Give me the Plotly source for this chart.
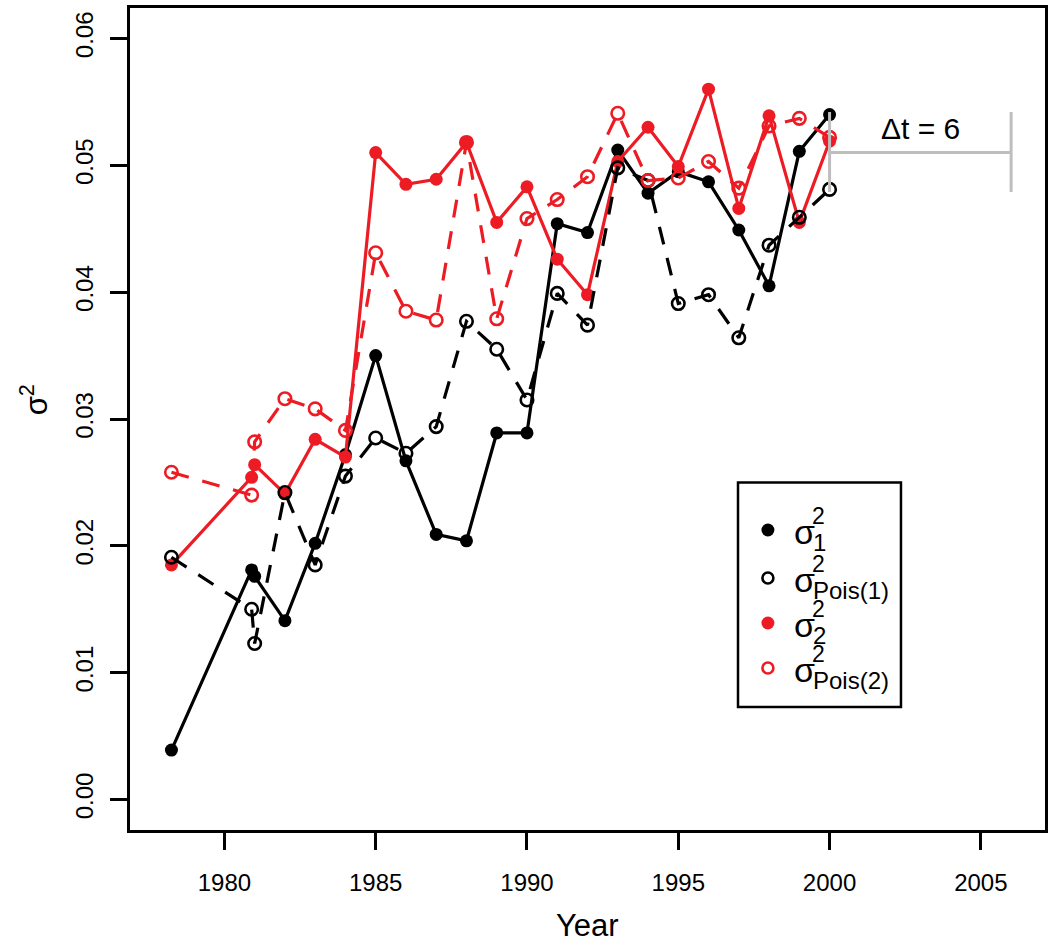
import plotly.graph_objects as go

# ---------------- data ----------------
years = [1978.25, 1980.9, 1981, 1982, 1983, 1984, 1985, 1986, 1987, 1988, 1989,
         1990, 1991, 1992, 1993, 1994, 1995, 1996, 1997, 1998, 1999, 2000]

sigma2_1 = [0.0039, 0.0181, 0.0176, 0.0141, 0.0202, 0.0272, 0.0350, 0.0267, 0.0209, 0.0204, 0.0289,
            0.0289, 0.0454, 0.0447, 0.0512, 0.0478, 0.0495, 0.0487, 0.0449, 0.0405, 0.0511, 0.0540]

sigma2_pois1 = [0.0191, 0.0150, 0.0123, 0.0242, 0.0185, 0.0255, 0.0285, 0.0273, 0.0294, 0.0377, 0.0355,
                0.0315, 0.0399, 0.0374, 0.0498, 0.0488, 0.0391, 0.0398, 0.0364, 0.0437, 0.0459, 0.0481]

sigma2_2 = [0.0185, 0.0254, 0.0264, 0.0241, 0.0284, 0.0270, 0.0510, 0.0485, 0.0489, 0.0518, 0.0455,
            0.0483, 0.0426, 0.0398, 0.0503, 0.0530, 0.0499, 0.0560, 0.0466, 0.0539, 0.0455, 0.0519]

sigma2_pois2 = [0.0258, 0.0240, 0.0282, 0.0316, 0.0308, 0.0291, 0.0431, 0.0385, 0.0378, 0.0518, 0.0379,
                0.0458, 0.0473, 0.0491, 0.0541, 0.0488, 0.0490, 0.0503, 0.0482, 0.0531, 0.0537, 0.0522]

x_ticks = [1980, 1985, 1990, 1995, 2000, 2005]
y_ticks = [0.00, 0.01, 0.02, 0.03, 0.04, 0.05, 0.06]
y_ticktext = ["0.00", "0.01", "0.02", "0.03", "0.04", "0.05", "0.06"]

# Delta-t annotation
dt_start = 2000
dt_len = 6
dt_level = 0.051
dt_cap_lo = 0.0479
dt_cap_hi = 0.0542
dt_label = "Δt = 6"

# ---------------- styling ----------------
RED = "#ED1C24"
BLACK = "#000000"
GRAY = "#BEBEBE"
FONT = "Liberation Sans, Arial, Helvetica, sans-serif"

W, H = 1050, 943
L, R, T, B = 130, 1048, 8, 830   # plot area in pixels

def paper(xp, yp):
    return (xp - L) / (R - L), (B - yp) / (B - T)

fig = go.Figure()

DASH = "18px,14px"
LW = 3.2

fig.add_trace(go.Scatter(x=years, y=sigma2_1, mode="lines+markers",
                         line=dict(color=BLACK, width=LW),
                         marker=dict(symbol="circle", size=13, color=BLACK),
                         showlegend=False))
fig.add_trace(go.Scatter(x=years, y=sigma2_2, mode="lines+markers",
                         line=dict(color=RED, width=LW),
                         marker=dict(symbol="circle", size=13, color=RED),
                         showlegend=False))
fig.add_trace(go.Scatter(x=years, y=sigma2_pois1, mode="lines+markers",
                         line=dict(color=BLACK, width=LW, dash=DASH),
                         marker=dict(symbol="circle-open", size=12.5, color=BLACK,
                                     line=dict(width=2.6, color=BLACK)),
                         showlegend=False))
fig.add_trace(go.Scatter(x=years, y=sigma2_pois2, mode="lines+markers",
                         line=dict(color=RED, width=LW, dash=DASH),
                         marker=dict(symbol="circle-open", size=12.5, color=RED,
                                     line=dict(width=2.6, color=RED)),
                         showlegend=False))

shapes = []
# Delta-t bar
shapes.append(dict(type="line", xref="x", yref="y", x0=dt_start, x1=dt_start + dt_len,
                   y0=dt_level, y1=dt_level, line=dict(color=GRAY, width=3)))
shapes.append(dict(type="line", xref="x", yref="y", x0=dt_start, x1=dt_start,
                   y0=dt_cap_lo, y1=dt_cap_hi, line=dict(color=GRAY, width=3)))
shapes.append(dict(type="line", xref="x", yref="y", x0=dt_start + dt_len, x1=dt_start + dt_len,
                   y0=dt_cap_lo, y1=dt_cap_hi, line=dict(color=GRAY, width=3)))

# Legend box
lx0, ly0 = paper(740, 707)
lx1, ly1 = paper(903.5, 482.5)
shapes.append(dict(type="rect", xref="paper", yref="paper", x0=lx0, y0=ly0, x1=lx1, y1=ly1,
                   line=dict(color=BLACK, width=2.5), fillcolor="rgba(0,0,0,0)", layer="above"))

legend_rows = [
    dict(y=530, color=BLACK, filled=True, sub="1"),
    dict(y=578, color=BLACK, filled=False, sub="Pois(1)"),
    dict(y=623, color=RED, filled=True, sub="2"),
    dict(y=668, color=RED, filled=False, sub="Pois(2)"),
]

annotations = []
mx = 770
for row in legend_rows:
    cy = row["y"]
    if row["filled"]:
        r = 6.5
        x0, y0 = paper(mx - r, cy + r)
        x1, y1 = paper(mx + r, cy - r)
        shapes.append(dict(type="circle", xref="paper", yref="paper", x0=x0, y0=y0, x1=x1, y1=y1,
                           fillcolor=row["color"], line=dict(width=0, color=row["color"])))
    else:
        r = 5.5
        x0, y0 = paper(mx - r, cy + r)
        x1, y1 = paper(mx + r, cy - r)
        shapes.append(dict(type="circle", xref="paper", yref="paper", x0=x0, y0=y0, x1=x1, y1=y1,
                           fillcolor="rgba(0,0,0,0)", line=dict(width=2.6, color=row["color"])))
    ax, ay = paper(795, cy + 2)
    annotations.append(dict(text="σ", xref="paper", yref="paper", x=ax, y=ay,
                            xanchor="left", yanchor="middle", showarrow=False,
                            font=dict(size=34, color=BLACK, family=FONT), borderpad=0))
    ax, ay = paper(813, cy - 14)
    annotations.append(dict(text="2", xref="paper", yref="paper", x=ax, y=ay,
                            xanchor="left", yanchor="middle", showarrow=False,
                            font=dict(size=23, color=BLACK, family=FONT), borderpad=0))
    ax, ay = paper(814, cy + 12)
    annotations.append(dict(text=row["sub"], xref="paper", yref="paper", x=ax, y=ay,
                            xanchor="left", yanchor="middle", showarrow=False,
                            font=dict(size=24, color=BLACK, family=FONT), borderpad=0))

# Delta-t label
annotations.append(dict(text=dt_label, xref="x", yref="y", x=dt_start + dt_len / 2, y=0.0529,
                        xanchor="center", yanchor="middle", showarrow=False,
                        font=dict(size=30, color=BLACK, family=FONT)))

# Axis titles
ax, ay = paper(589, 925)
annotations.append(dict(text="Year", xref="paper", yref="paper", x=ax, y=ay,
                        xanchor="center", yanchor="middle", showarrow=False,
                        font=dict(size=31, color=BLACK, family=FONT)))
ax, ay = paper(34, 400)
annotations.append(dict(text="σ<sup>2</sup>", xref="paper", yref="paper", x=ax, y=ay,
                        xanchor="center", yanchor="middle", showarrow=False, textangle=-90,
                        font=dict(size=31, color=BLACK, family=FONT)))

axis_common = dict(showgrid=False, zeroline=False, showline=True, linecolor=BLACK, linewidth=2.5,
                   mirror=True, ticks="outside", ticklen=17, tickwidth=2.5, tickcolor=BLACK,
                   tickfont=dict(size=24, color=BLACK, family=FONT))

fig.update_layout(
    width=W, height=H, autosize=False,
    margin=dict(l=L, r=W - R, t=T, b=H - B, pad=0),
    paper_bgcolor="white", plot_bgcolor="white",
    font=dict(family=FONT, color=BLACK),
    xaxis=dict(range=[1976.88, 2007.12], tickvals=x_ticks, ticklabelstandoff=12, **axis_common),
    yaxis=dict(range=[-0.0024, 0.0624], tickvals=y_ticks, ticktext=y_ticktext, tickangle=-90,
               ticklabelstandoff=8, **axis_common),
    shapes=shapes,
    annotations=annotations,
    showlegend=False,
)

fig.write_html("out.html", config={"displayModeBar": False},
               post_script="document.body.style.margin='0';document.body.style.padding='0';")
